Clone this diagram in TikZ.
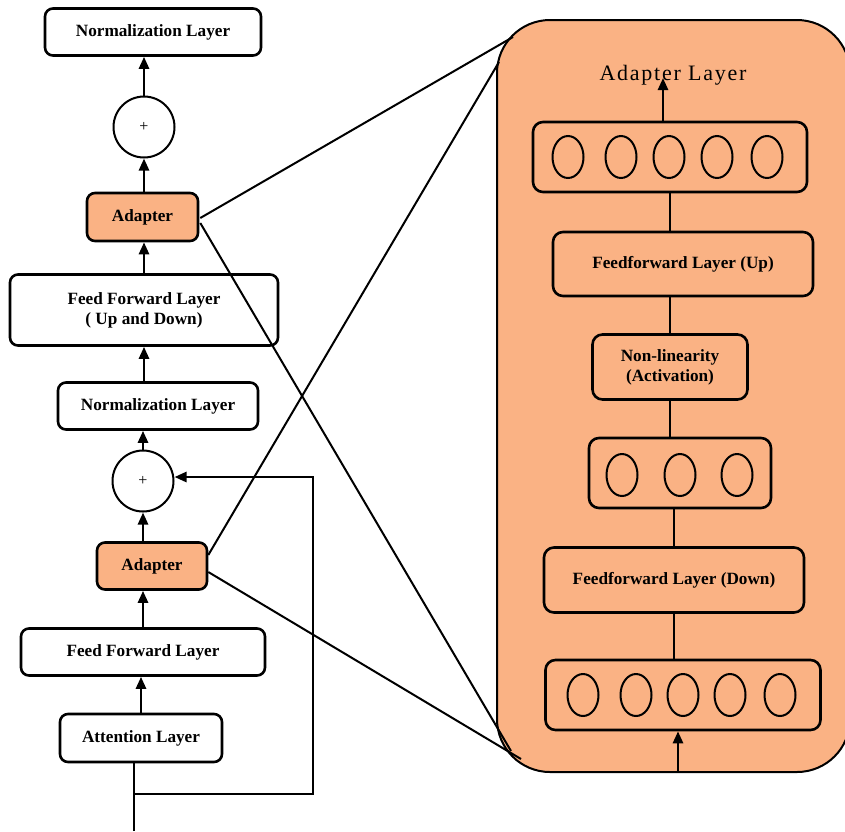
\documentclass[tikz,border=0pt]{standalone}
\usepackage{fontspec}
\setmainfont{Liberation Serif}
\usetikzlibrary{arrows.meta,shapes.geometric,calc}
\definecolor{adapt}{RGB}{250,178,132}
\begin{document}
\begin{tikzpicture}[x=1pt,y=-1pt,
  blk/.style={draw, line width=2.6pt, rounded corners=8pt, fill=white, inner sep=0pt, align=center,
    font=\bfseries\fontsize{17.2}{20}\selectfont},
  oblk/.style={blk, fill=adapt},
  sumnode/.style={circle, draw, line width=2pt, minimum size=61pt, inner sep=0pt, fill=white,
    font=\fontsize{16}{18}\selectfont},
  neu/.style={ellipse, draw, line width=2pt, minimum width=31pt, minimum height=42pt, inner sep=0pt},
  ln/.style={line width=2.6pt},
  arr/.style={line width=2.6pt, -{Triangle[length=12pt,width=10pt]}},
  cross/.style={line width=2pt}]
\useasboundingbox (0,0) rectangle (845,831);
\clip (0,0) rectangle (845,831);

% ---------- big adapter panel ----------
\node[draw, line width=2pt, fill=adapt, rounded corners=53pt, minimum width=353pt,
      minimum height=752pt, inner sep=0pt] (big) at (673.5,396) {};

% ---------- left column ----------
\node[blk, minimum width=216pt, minimum height=47pt] (norm1) at (153,32) {Normalization Layer};
\node[sumnode] (plus1) at (144,127) {+};
\node[oblk, minimum width=111pt, minimum height=48pt] (ad1) at (142.5,217) {Adapter};
\node[blk, minimum width=268pt, minimum height=71pt] (ffud) at (144,310) {Feed Forward Layer\\( Up and Down)};
\node[blk, minimum width=200pt, minimum height=47pt] (norm2) at (158,406) {Normalization Layer};
\node[sumnode] (plus2) at (143,481) {+};
\node[oblk, minimum width=110pt, minimum height=47pt] (ad2) at (152,566) {Adapter};
\node[blk, minimum width=244pt, minimum height=47pt] (ff) at (143,652) {Feed Forward Layer};
\node[blk, minimum width=162pt, minimum height=48pt] (att) at (141,738) {Attention Layer};

\draw[arr] (plus1.north) -- (plus1.north |- norm1.south);
\draw[arr] (plus1.south |- ad1.north) -- (plus1.south);
\draw[arr] (ffud.north) -- (ffud.north |- ad1.south);
\draw[arr] (ffud.south |- norm2.north) -- (ffud.south);
\draw[arr] (plus2.north) -- (plus2.north |- norm2.south);
\draw[arr] (plus2.south |- ad2.north) -- (plus2.south);
\draw[arr] (ff.north) -- (ff.north |- ad2.south);
\draw[arr] (att.north) -- (att.north |- ff.south);

\coordinate (in) at (134,831);
\coordinate (split) at (134,794);
\coordinate (rb) at (313,794);
\coordinate (rt) at (313,477);
\draw[ln] (in) -- (in |- att.south);
\draw[arr] (split) -- (rb) -- (rt) -- (rt -| plus2.east);

% ---------- zoom lines ----------
\coordinate (c1) at (513,37);
\coordinate (c2) at (511,751);
\coordinate (c3) at (499,62);
\coordinate (c4) at (521,759);
\draw[cross] ($(ad1.east)+(1,1)$) -- (c1);
\draw[cross] ($(ad1.east)+(1,6)$) -- (c2);
\draw[cross] ($(ad2.east)+(0,-11)$) -- (c3);
\draw[cross] ($(ad2.east)+(0,6)$) -- (c4);

% ---------- inside the panel ----------
\node[font=\fontsize{22}{24}\selectfont\addfontfeature{LetterSpace=8}] (title) at (673,75) {Adapter Layer};

\node[oblk, minimum width=274pt, minimum height=70pt, rounded corners=10pt] (top5) at (670,157) {};
\foreach \i/\x in {1/568,2/621,3/669,4/717,5/767}
  \node[neu] (t\i) at (\x,157) {};

\node[oblk, minimum width=260pt, minimum height=64pt, rounded corners=10pt] (ffup) at (683,264) {Feedforward Layer (Up)};
\node[oblk, minimum width=155pt, minimum height=65pt, rounded corners=10pt] (nonlin) at (670,367) {Non-linearity\\(Activation)};

\node[oblk, minimum width=182pt, minimum height=70pt, rounded corners=10pt] (mid3) at (680,473) {};
\foreach \i/\x in {1/622,2/680,3/737}
  \node[neu] (m\i) at (\x,475) {};

\node[oblk, minimum width=260pt, minimum height=65pt, rounded corners=10pt] (ffdown) at (674,580) {Feedforward Layer (Down)};

\node[oblk, minimum width=275pt, minimum height=70pt, rounded corners=10pt] (bot5) at (683,695) {};
\foreach \i/\x in {1/583,2/636,3/683,4/730,5/780}
  \node[neu] (b\i) at (\x,695) {};

\coordinate (tout) at (663,78);
\coordinate (bin) at (678,772);
\draw[arr] (tout |- top5.north) -- (tout);
\draw[ln] (top5.south) -- (top5.south |- ffup.north);
\draw[ln] (nonlin.north) -- (nonlin.north |- ffup.south);
\draw[ln] (nonlin.south) -- (nonlin.south |- mid3.north);
\draw[ln] (ffdown.north |- mid3.south) -- (ffdown.north);
\draw[ln] (ffdown.south) -- (ffdown.south |- bot5.north);
\draw[arr] (bin) -- (bin |- bot5.south);
\end{tikzpicture}
\end{document}
